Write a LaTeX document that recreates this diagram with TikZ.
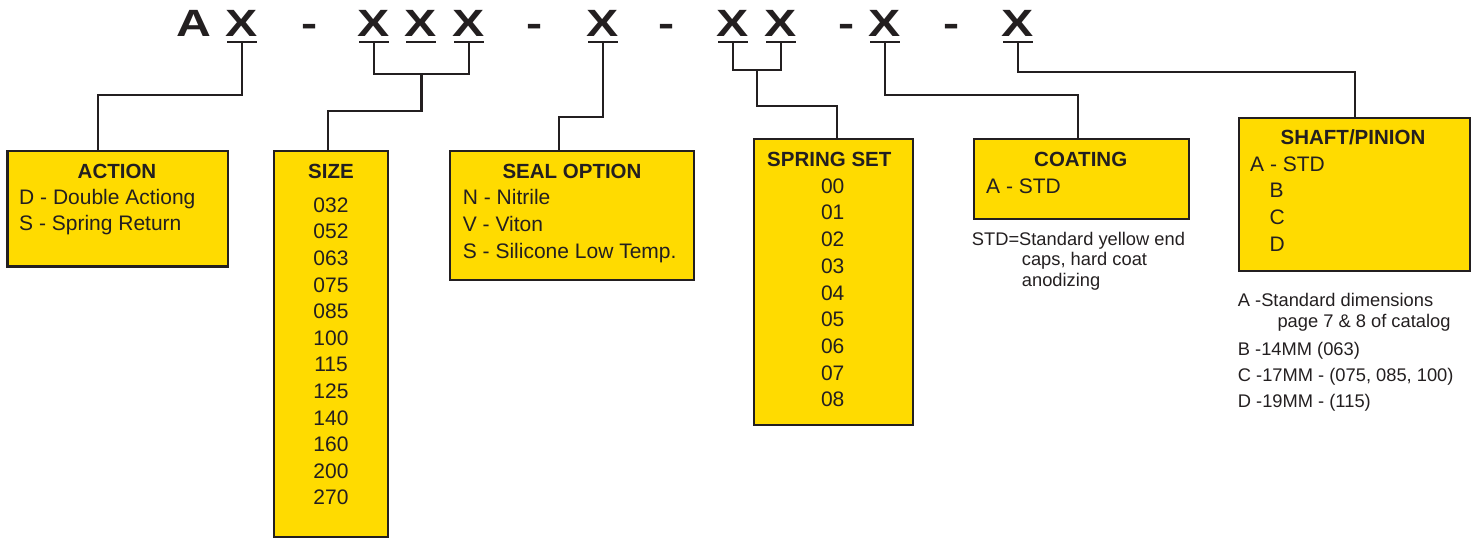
\documentclass[tikz,border=0pt]{standalone}
\usepackage{fontspec}
\setmainfont{Liberation Sans}
\usepackage{graphicx}
\usetikzlibrary{calc}
\definecolor{ink}{RGB}{35,31,32}
\definecolor{gold}{RGB}{255,219,0}
\tikzset{
 box/.style={draw=ink, fill=gold, line width=2.8pt, inner sep=0pt, outer sep=0pt, rectangle},
 conn/.style={draw=ink, line width=2.4pt},
 uline/.style={draw=ink, line width=2.6pt},
 code/.style={font=\fontsize{38}{38}\selectfont\bfseries, text=ink, anchor=base, inner sep=0pt},
 ttl/.style={font=\fontsize{20.5}{21}\selectfont\bfseries, text=ink, anchor=base, inner sep=0pt},
 itm/.style={font=\fontsize{21}{22}\selectfont, text=ink, anchor=base west, inner sep=0pt},
 num/.style={font=\fontsize{21}{22}\selectfont, text=ink, anchor=base, inner sep=0pt},
 note/.style={font=\fontsize{18.3}{19}\selectfont, text=ink, anchor=base west, inner sep=0pt},
}
\newcommand{\wide}[1]{\scalebox{1.27}[1]{#1}}
\begin{document}
\begin{tikzpicture}[x=1pt,y=-1pt]
\useasboundingbox (0,0) rectangle (1477,539);

% code letters
\node[code] (a0) at (194,36) {\wide{A}};
\node[code] (x1) at (242,36) {\wide{X}};
\node[code] (d1) at (310,36) {\wide{-}};
\node[code] (x2) at (374,36) {\wide{X}};
\node[code] (x3) at (421,36) {\wide{X}};
\node[code] (x4) at (469,36) {\wide{X}};
\node[code] (d2) at (535,36) {\wide{-}};
\node[code] (x5) at (603,36) {\wide{X}};
\node[code] (d3) at (667,36) {\wide{-}};
\node[code] (x6) at (733,36) {\wide{X}};
\node[code] (x7) at (781,36) {\wide{X}};
\node[code] (d4) at (847,36) {\wide{-}};
\node[code] (x8) at (885,36) {\wide{X}};
\node[code] (d5) at (952,36) {\wide{-}};
\node[code] (x9) at (1018,36) {\wide{X}};

\foreach \i in {1,...,9}{
  \coordinate (u\i) at ($(x\i.base)+(0,6)$);
  \draw[uline] ($(u\i)+(-15,0)$) -- ($(u\i)+(15,0)$);
}

% boxes
\node[box, minimum width=220.5pt, minimum height=115.5pt] (action) at (117.75,208.75) {};
\node[box, minimum width=114pt, minimum height=386pt] (size) at (331,344) {};
\node[box, minimum width=244pt, minimum height=129pt] (seal) at (572,215.5) {};
\node[box, minimum width=159pt, minimum height=286pt] (spring) at (833.5,282) {};
\node[box, minimum width=215pt, minimum height=80pt] (coating) at (1081.5,179) {};
\node[box, minimum width=231pt, minimum height=153pt] (shaft) at (1354.5,194.5) {};

% connectors
\draw[conn] (u1) |- (98,95) -- (98,95 |- action.north);
\draw[conn] (u2) -- (u2 |- 0,74) -| (u4);
\draw[conn] ($(u2 |- 0,74)!0.5!(u4 |- 0,74)$) |- (328,111) -- (328,111 |- size.north);
\draw[conn] (u5) |- (559,117) -- (559,117 |- seal.north);
\draw[conn] (u6) -- (u6 |- 0,70) -| (u7);
\draw[conn] ($(u6 |- 0,70)!0.5!(u7 |- 0,70)$) |- (837,106) -- (837,106 |- spring.north);
\draw[conn] (u8) |- (1078,95) -- (1078,95 |- coating.north);
\draw[conn] (u9) |- (1355,72) -- (1355,72 |- shaft.north);

% ACTION
\node[ttl] (t1) at (117,178.4) {ACTION};
\node[itm] (a1) at (19,204.3) {D - Double Actiong};
\node[itm] (a2) at (19,230.8) {S - Spring Return};

% SIZE
\node[ttl] (t2) at (331,178.4) {SIZE};
\foreach \v [count=\k from 0] in {032,052,063,075,085,100,115,125,140,160,200,270}{
  \node[num] (s\k) at (331,212.3+26.6*\k) {\v};
}

% SEAL OPTION
\node[ttl] (t3) at (572,178.4) {SEAL OPTION};
\node[itm] (e1) at (462.7,204.3) {N - Nitrile};
\node[itm] (e2) at (462.7,231.1) {V - Viton};
\node[itm] (e3) at (462.7,258) {S - Silicone Low Temp.};

% SPRING SET
\node[ttl] (t4) at (829.3,166) {SPRING SET};
\foreach \v [count=\k from 0] in {00,01,02,03,04,05,06,07,08}{
  \node[num] (p\k) at (832.7,193.3+26.68*\k) {\v};
}

% COATING
\node[ttl] (t5) at (1080.7,166.5) {COATING};
\node[itm] (c1) at (986,193.3) {A - STD};
\node[note] (n1) at (971.7,245) {STD=Standard yellow end};
\node[note] (n2) at (1021.7,265.8) {caps, hard coat};
\node[note] (n3) at (1021.7,286.6) {anodizing};

% SHAFT/PINION
\node[ttl] (t6) at (1353,144) {SHAFT/PINION};
\node[itm] (h1) at (1250,171) {A - STD};
\node[itm] (h2) at (1269.3,197.7) {B};
\node[itm] (h3) at (1269.3,224.4) {C};
\node[itm] (h4) at (1269.3,251.1) {D};
\node[note] (m1) at (1237.7,306.7) {A -Standard dimensions};
\node[note] (m2) at (1277.3,327.7) {page 7 \& 8 of catalog};
\node[note] (m3) at (1237.7,355) {B -14MM (063)};
\node[note] (m4) at (1237.7,381.7) {C -17MM - (075, 085, 100)};
\node[note] (m5) at (1237.7,407.3) {D -19MM - (115)};
\end{tikzpicture}
\end{document}
